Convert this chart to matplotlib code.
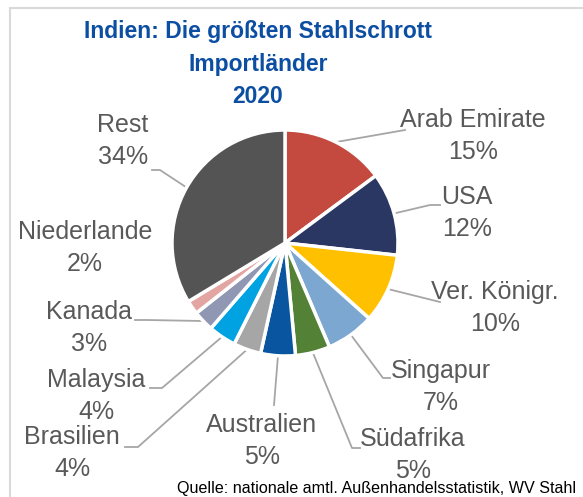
import matplotlib
matplotlib.use("Agg")
import numpy as np
import matplotlib.pyplot as plt
from matplotlib.patches import Rectangle

plt.rcParams['font.family'] = ['Liberation Sans', 'DejaVu Sans']

# =========================
# Daten

laender = ["Arab Emirate", "USA", "Ver. Königr.", "Singapur", "Südafrika",
           "Australien", "Brasilien", "Malaysia", "Kanada", "Niederlande", "Rest"]
anteile = [15, 12, 10, 7, 5, 5, 4, 4, 3, 2, 34]
farben = ["#C4493F", "#2A3762", "#FFC000", "#7BA7D0", "#538135",
          "#0A55A0", "#A6A6A6", "#00A2E1", "#8F97B3", "#E3A5A2", "#545454"]

titel = "Indien: Die größten Stahlschrott\nImportländer\n2020"
quelle = "Quelle: nationale amtl. Außenhandelsstatistik, WV Stahl"

# =========================
# Layout (Pixel, y von oben)

W, H = 583, 497
cx, cy, R = 285, 243, 113

# Textmitte der Beschriftung, Knickpunkte der Linie (None = keine Linie)
text_pos = [(473, 136), (467, 213), (495, 308), (441, 387), (413, 455),
            (262, 441), (72, 453), (96, 396), (89, 328), (85, 248), (123, 141)]
knick = [[(405, 130)], [(430, 205), (440, 205)], [(440, 302)],
         [(383, 378), (390, 378)], [(352, 448), (360, 448)],
         [(274, 405)], [(138, 447), (125, 447)], [(162, 388), (150, 388)],
         [(147, 320), (135, 320)], None, [(160, 170), (152, 170)]]


def py(y):
    return H - y


fig = plt.figure(figsize=(W / 100, H / 100), dpi=100)
ax = fig.add_axes([0, 0, 1, 1])

wedges, _ = ax.pie(anteile, colors=farben, startangle=90, counterclock=False,
                   center=(cx, py(cy)), radius=R, frame=False,
                   wedgeprops=dict(edgecolor="white", linewidth=2.5))

ax.set_xlim(0, W)
ax.set_ylim(0, H)
ax.set_aspect("equal")
ax.axis("off")

# Beschriftungen + Führungslinien
for w, name, pct, tp, kn in zip(wedges, laender, anteile, text_pos, knick):
    ax.text(tp[0], py(tp[1]), f"{name}\n{pct}%", ha="center", va="center",
            fontsize=18, color="#595959", linespacing=1.45)
    if kn is None:
        continue
    mid = np.deg2rad((w.theta1 + w.theta2) / 2)
    x0 = cx + R * np.cos(mid)
    y0 = py(cy) + R * np.sin(mid)
    xs = [x0] + [p[0] for p in kn]
    ys = [y0] + [py(p[1]) for p in kn]
    ax.plot(xs, ys, color="#A6A6A6", lw=1.3, zorder=0)

ax.text(258, py(64), titel, ha="center", va="center", fontsize=16.5,
        fontweight="bold", color="#0B4EA2", linespacing=1.55)

ax.text(377, py(488), quelle, ha="center", va="center", fontsize=11.6, color="black")

# Rahmen
ax.add_patch(Rectangle((10, -20), W + 20, py(8) + 20, fill=False,
                       edgecolor="#D9D9D9", lw=1.5, clip_on=False))

fig.savefig("out.png", dpi=100)
